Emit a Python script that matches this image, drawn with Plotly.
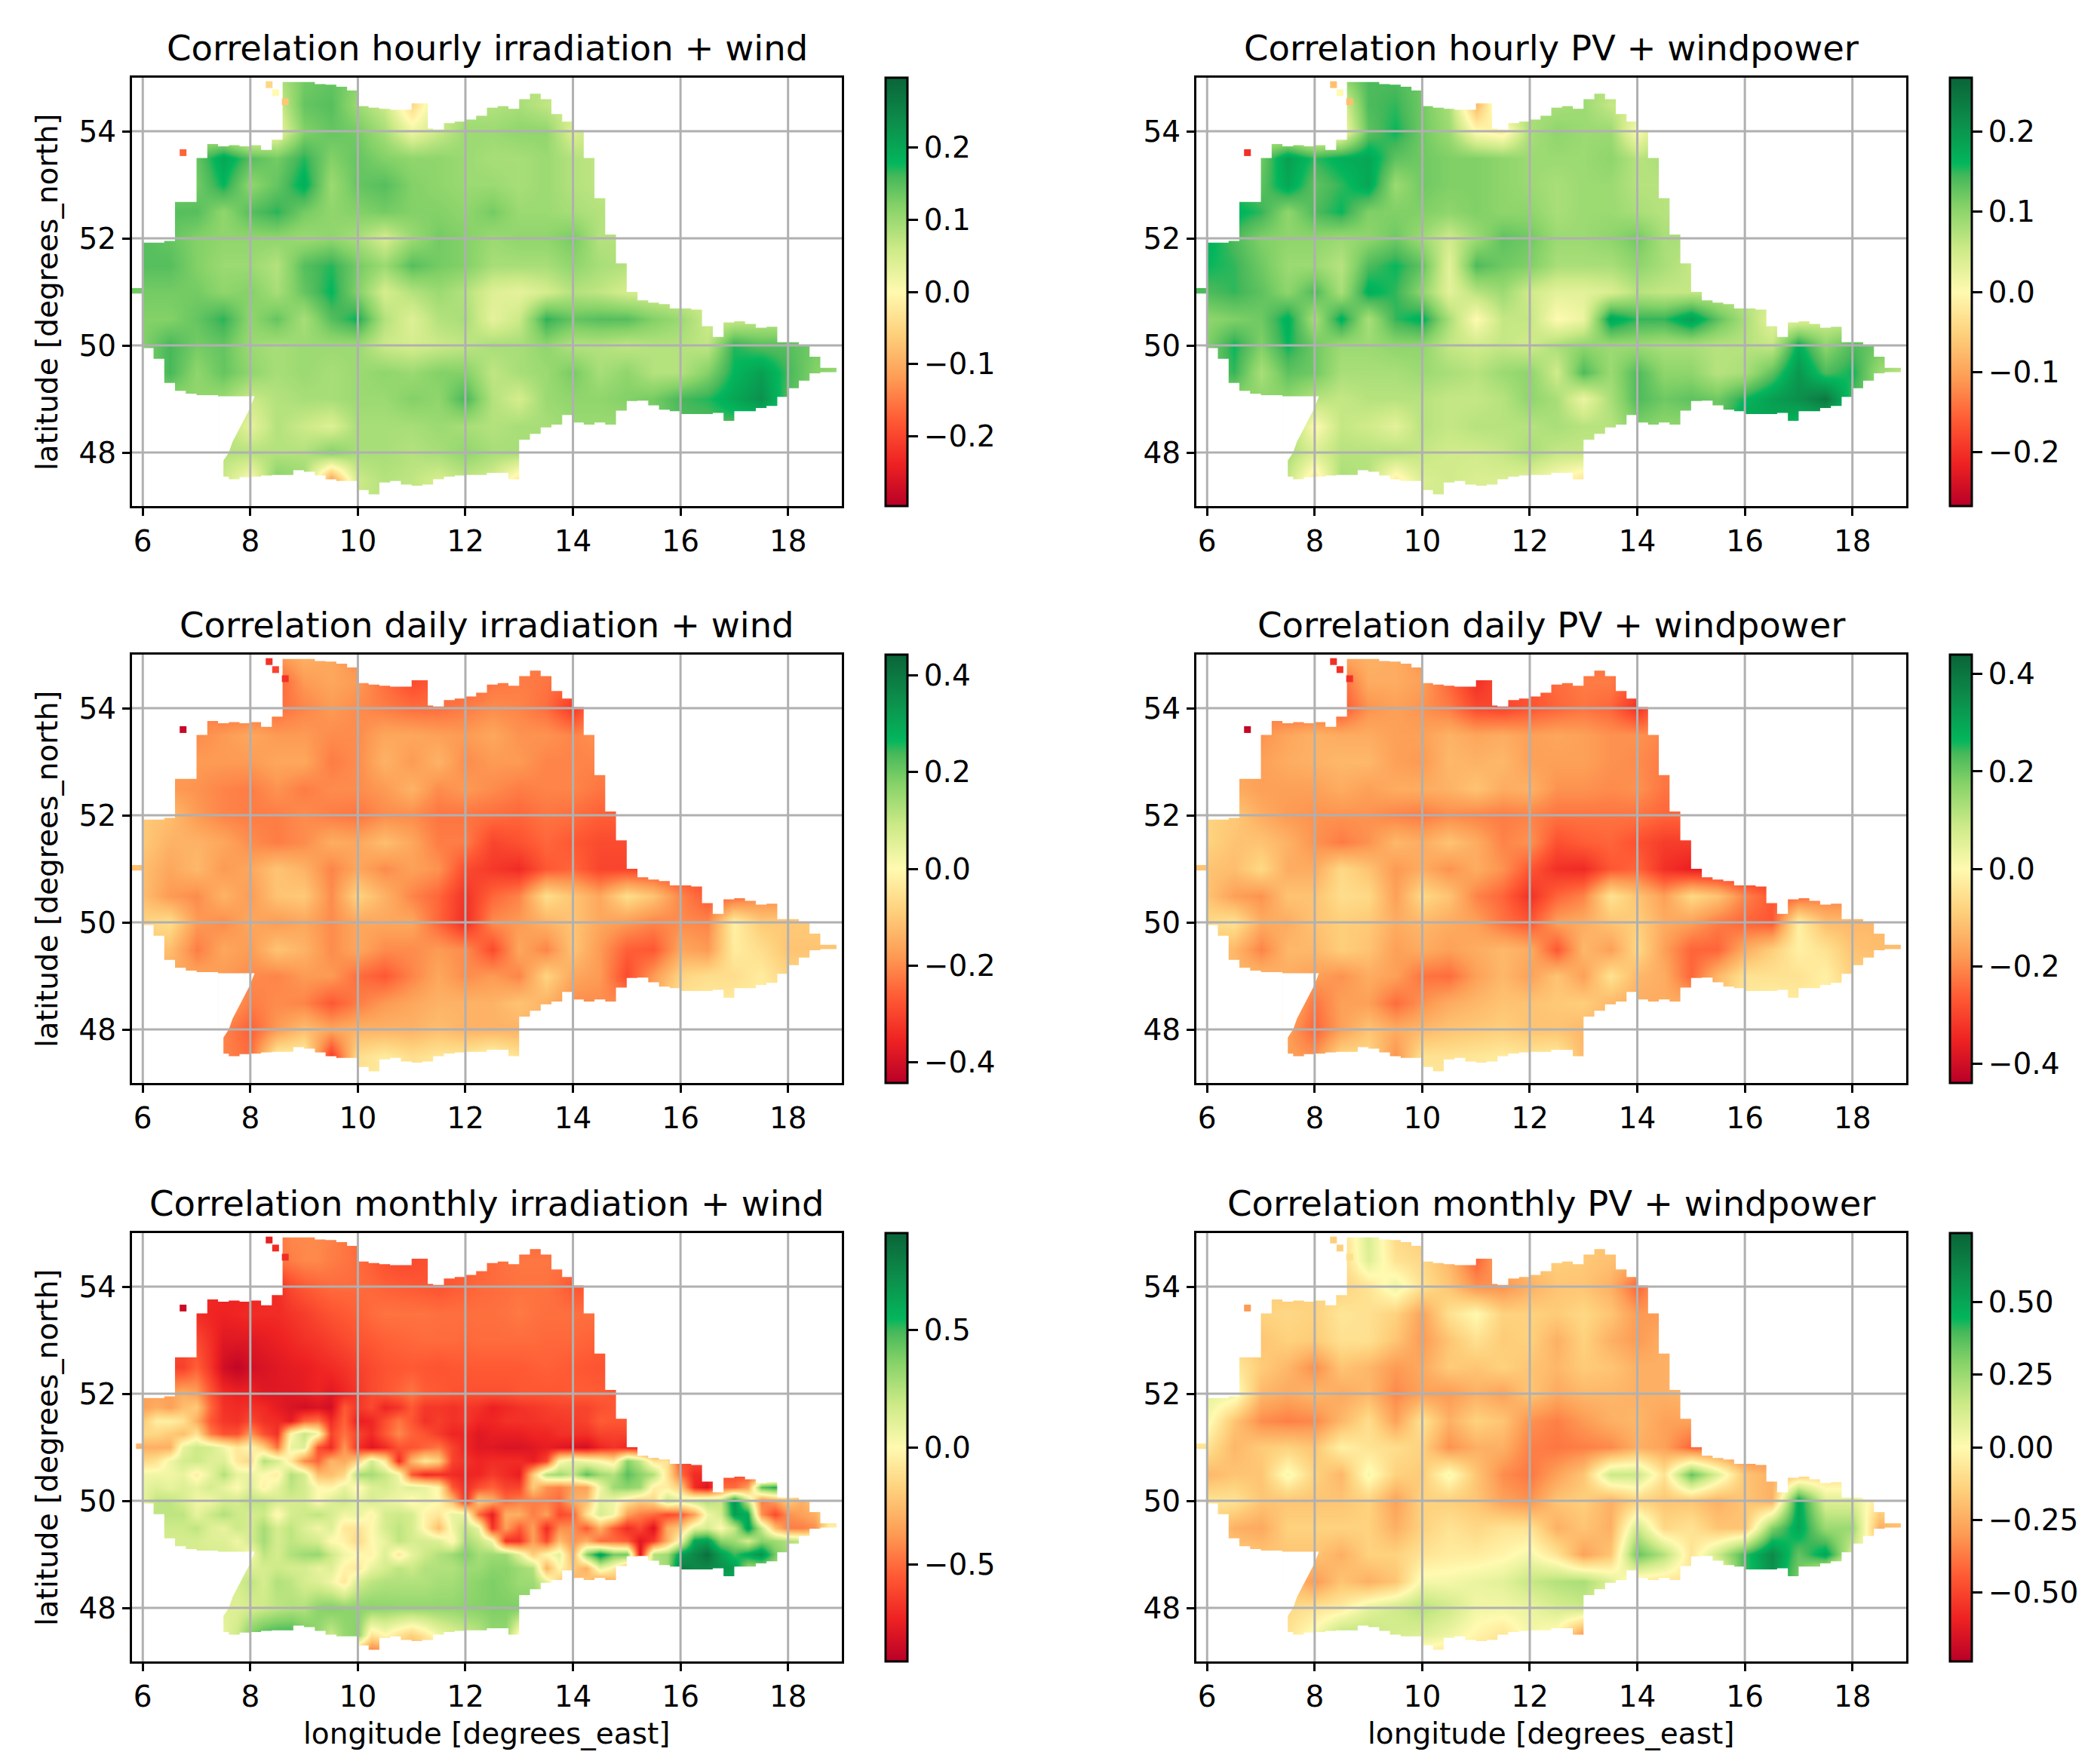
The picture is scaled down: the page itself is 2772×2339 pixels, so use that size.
# Correlation maps of irradiation/PV and wind/windpower over Germany
import plotly.graph_objects as go
from plotly.subplots import make_subplots

W, H = 2772, 2339

lon = [6, 6.5, 7, 7.5, 8, 8.5, 9, 9.5, 10, 10.5, 11, 11.5, 12, 12.5, 13, 13.5, 14,
       14.5, 15, 15.5, 16, 16.5, 17, 17.5, 18, 18.5, 19]
lat = [55, 54.5, 54, 53.5, 53, 52.5, 52, 51.5, 51, 50.5, 50, 49.5, 49, 48.5, 48, 47.5, 47]

# the monthly irradiation map has a sharp front, so it is read on a finer grid
lon_fine = [6, 6.25, 6.5, 6.75, 7, 7.25, 7.5, 7.75, 8, 8.25, 8.5, 8.75, 9, 9.25, 9.5, 9.75,
            10, 10.25, 10.5, 10.75, 11, 11.25, 11.5, 11.75, 12, 12.25, 12.5, 12.75, 13, 13.25, 13.5, 13.75,
            14, 14.25, 14.5, 14.75, 15, 15.25, 15.5, 15.75, 16, 16.25, 16.5, 16.75, 17, 17.25, 17.5, 17.75,
            18, 18.25, 18.5, 18.75, 19]
lat_fine = [55, 54.5, 54, 53.5, 53, 52.5, 52, 51.75, 51.5, 51.25, 51, 50.75, 50.5, 50.25, 50,
            49.75, 49.5, 49.25, 49, 48.75, 48.5, 48, 47.5, 47]

# values, in hundredths of a correlation, rows north to south
hourly_irr = [
    [10,10,10,10,10,8,13,14,12,10,5,5,8,8,8,8,8,8,8,8,8,8,8,8,8,8,8],
    [10,10,10,10,5,5,14,15,10,6,-5,5,8,8,9,7,5,8,8,8,8,8,8,8,8,8,8],
    [10,10,8,5,0,2,12,14,13,9,2,6,10,10,11,11,4,8,8,8,8,8,8,8,8,8,8],
    [12,12,14,20,15,13,17,12,14,12,11,11,10,9,9,10,8,7,7,7,7,7,7,7,7,7,7],
    [12,12,13,18,11,14,19,10,14,15,12,11,10,10,9,10,8,7,7,7,7,7,7,7,7,7,7],
    [13,15,15,11,15,17,13,11,12,13,12,12,11,13,10,10,9,8,8,8,8,8,8,8,8,8,8],
    [15,14,12,11,11,11,10,11,9,5,10,13,12,10,11,11,13,8,8,8,8,8,8,8,8,8,8],
    [15,15,12,10,10,8,15,17,13,10,15,13,12,9,9,9,11,9,8,8,8,8,8,8,8,8,8],
    [13,13,13,11,12,9,14,18,12,5,8,10,8,4,3,5,8,7,5,5,5,5,5,5,5,5,5],
    [12,12,14,17,11,14,9,15,18,8,4,8,9,3,6,17,14,15,15,12,10,6,6,7,7,7,7],
    [12,16,13,14,10,9,10,10,10,6,5,6,7,9,9,11,8,8,7,8,8,7,17,15,15,13,13],
    [12,16,11,14,11,9,10,9,10,11,10,12,12,7,9,10,13,9,11,8,8,12,18,21,16,12,10],
    [11,11,11,10,6,8,9,9,10,10,12,11,16,8,5,10,11,11,12,13,16,17,20,23,15,12,12],
    [10,10,8,8,3,8,6,4,9,9,9,10,9,8,9,9,10,10,10,12,15,15,15,15,15,12,12],
    [8,8,8,8,8,8,8,12,9,9,8,9,11,9,9,9,9,9,9,9,9,9,9,9,9,9,9],
    [6,6,6,6,0,12,10,-12,6,8,7,5,7,5,-3,0,5,5,5,5,5,5,5,5,5,5,5],
    [7,7,7,7,7,7,7,7,7,7,7,7,7,7,7,7,7,7,7,7,7,7,7,7,7,7,7],
]
hourly_pv = [
    [10,10,10,10,10,10,14,14,12,8,5,5,8,8,8,8,8,8,8,8,8,8,8,8,8,8,8],
    [10,10,10,10,0,3,14,15,12,8,-8,6,8,8,9,6,5,8,8,8,8,8,8,8,8,8,8],
    [10,10,5,3,0,0,13,16,12,9,0,-2,8,10,9,9,0,8,8,8,8,8,8,8,8,8,8],
    [14,14,12,19,15,17,18,13,12,11,11,10,9,9,9,10,7,8,8,8,8,8,8,8,8,8,8],
    [14,14,13,18,13,15,18,9,12,11,11,10,9,8,9,9,7,7,7,7,7,7,7,7,7,7,7],
    [15,17,15,10,14,16,11,11,11,10,11,10,10,8,9,9,8,7,7,7,7,7,7,7,7,7,7],
    [17,14,11,10,10,9,10,12,9,5,9,13,12,9,9,10,12,8,8,8,8,8,8,8,8,8,8],
    [16,15,12,9,9,7,14,16,13,3,14,12,11,8,8,8,10,8,6,6,6,6,6,6,6,6,6],
    [14,15,13,10,14,8,17,15,10,3,7,9,5,3,3,4,7,6,6,6,6,6,6,6,6,6,6],
    [10,11,12,17,8,17,8,15,17,8,0,6,6,0,2,18,15,15,19,13,8,3,3,5,5,5,5],
    [11,16,11,16,12,9,9,10,10,6,5,6,5,8,10,9,9,8,8,7,7,6,17,10,14,12,12],
    [12,15,8,13,12,8,8,8,9,8,7,9,10,5,14,9,14,10,10,7,8,13,20,14,16,9,6],
    [10,10,10,10,7,6,7,7,7,6,6,7,10,8,2,8,14,12,13,12,16,19,21,24,14,10,10],
    [10,10,8,8,0,6,5,3,7,6,7,7,7,8,7,7,11,10,10,13,19,18,15,15,15,10,10],
    [8,8,8,8,4,7,7,7,6,5,5,6,8,6,6,6,6,6,6,6,6,6,6,6,6,6,6],
    [6,6,6,6,-3,8,7,-2,4,5,4,4,3,0,-3,-3,3,3,3,3,3,3,3,3,3,3,3],
    [5,5,5,5,5,5,5,5,5,5,5,5,5,5,5,5,5,5,5,5,5,5,5,5,5,5,5],
]
daily_irr = [
    [-16,-16,-16,-16,-16,-18,-14,-16,-20,-21,-22,-22,-21,-21,-22,-22,-22,-22,-22,-22,-22,-22,-22,-22,-22,-22,-22],
    [-16,-16,-16,-16,-26,-26,-18,-16,-18,-24,-29,-26,-26,-23,-22,-23,-26,-22,-22,-22,-22,-22,-22,-22,-22,-22,-22],
    [-16,-16,-21,-24,-24,-24,-21,-18,-20,-22,-24,-24,-22,-20,-21,-24,-32,-21,-21,-21,-21,-21,-21,-21,-21,-21,-21],
    [-16,-18,-20,-18,-16,-18,-18,-20,-20,-16,-16,-17,-18,-16,-19,-19,-21,-19,-19,-19,-19,-19,-19,-19,-19,-19,-19],
    [-16,-18,-18,-18,-18,-16,-16,-22,-20,-14,-18,-14,-20,-18,-18,-21,-21,-21,-21,-21,-21,-21,-21,-21,-21,-21,-21],
    [-16,-18,-19,-21,-22,-19,-22,-20,-20,-18,-14,-20,-18,-20,-22,-21,-21,-23,-23,-23,-23,-23,-23,-23,-23,-23,-23],
    [-10,-12,-18,-21,-22,-22,-20,-22,-23,-20,-20,-23,-23,-24,-25,-23,-24,-26,-26,-26,-26,-26,-26,-26,-26,-26,-26],
    [-10,-14,-14,-16,-20,-22,-20,-15,-16,-12,-16,-22,-22,-30,-28,-25,-27,-29,-29,-29,-29,-29,-29,-29,-29,-29,-29],
    [-12,-16,-13,-18,-16,-11,-14,-21,-16,-20,-17,-19,-29,-32,-34,-27,-25,-30,-30,-30,-30,-30,-30,-30,-30,-30,-30],
    [-12,-18,-20,-14,-18,-11,-10,-20,-8,-14,-21,-25,-33,-25,-21,-6,-11,-16,-6,-11,-21,-27,-25,-21,-21,-21,-21],
    [-8,-6,-18,-20,-16,-18,-16,-20,-16,-16,-16,-25,-34,-20,-18,-14,-11,-16,-18,-21,-20,-21,-2,-10,-10,-10,-10],
    [-11,-12,-22,-16,-18,-11,-14,-20,-16,-20,-20,-18,-20,-29,-16,-21,-11,-18,-26,-27,-16,-18,-3,-6,-11,-11,-11],
    [-16,-16,-16,-18,-20,-21,-18,-18,-24,-27,-21,-16,-20,-18,-21,-8,-16,-18,-29,-18,-8,-6,-6,-3,-8,-8,-8],
    [-16,-16,-16,-16,-22,-20,-21,-27,-22,-18,-16,-14,-14,-14,-11,-14,-20,-20,-20,-14,-4,-3,-3,-3,-3,-3,-3],
    [-21,-21,-21,-21,-26,-18,-12,-16,-14,-14,-14,-12,-14,-14,-14,-14,-14,-14,-14,-14,-14,-14,-14,-14,-14,-14,-14],
    [-21,-21,-21,-21,-24,-2,-2,-32,-6,-3,-6,-4,-4,0,-5,-5,-5,-5,-5,-5,-5,-5,-5,-5,-5,-5,-5],
    [-4,-4,-4,-4,-4,-4,-4,-4,-4,-4,-4,-4,-4,-4,-4,-4,-4,-4,-4,-4,-4,-4,-4,-4,-4,-4,-4],
]
daily_pv = [
    [-15,-15,-15,-15,-15,-15,-14,-15,-19,-22,-24,-24,-24,-24,-24,-24,-24,-24,-24,-24,-24,-24,-24,-24,-24,-24,-24],
    [-15,-15,-15,-15,-25,-25,-15,-15,-17,-25,-33,-28,-28,-24,-22,-22,-28,-24,-24,-24,-24,-24,-24,-24,-24,-24,-24],
    [-17,-17,-22,-25,-25,-27,-19,-17,-19,-22,-29,-30,-27,-25,-23,-25,-33,-22,-22,-22,-22,-22,-22,-22,-22,-22,-22],
    [-17,-17,-19,-16,-14,-15,-15,-17,-17,-14,-16,-15,-17,-16,-17,-19,-19,-21,-21,-21,-21,-21,-21,-21,-21,-21,-21],
    [-17,-17,-17,-15,-14,-13,-13,-17,-18,-13,-14,-13,-17,-17,-17,-19,-20,-22,-22,-22,-22,-22,-22,-22,-22,-22,-22],
    [-15,-15,-17,-17,-17,-15,-17,-15,-15,-14,-11,-15,-14,-19,-19,-20,-19,-23,-23,-23,-23,-23,-23,-23,-23,-23,-23],
    [-8,-10,-15,-18,-19,-19,-19,-21,-22,-20,-21,-22,-21,-23,-23,-23,-23,-25,-25,-25,-25,-25,-25,-25,-25,-25,-25],
    [-8,-11,-11,-14,-19,-22,-19,-13,-15,-11,-15,-21,-19,-28,-26,-25,-28,-31,-31,-31,-31,-31,-31,-31,-31,-31,-31],
    [-11,-12,-7,-15,-15,-7,-11,-18,-15,-19,-15,-19,-27,-33,-34,-27,-25,-33,-36,-36,-36,-36,-36,-36,-36,-36,-36],
    [-11,-17,-19,-11,-11,-6,-7,-17,-7,-11,-21,-25,-33,-25,-21,-5,-11,-17,-7,-11,-21,-27,-25,-22,-22,-22,-22],
    [-7,-5,-15,-15,-11,-9,-10,-15,-13,-15,-17,-23,-27,-17,-15,-11,-9,-15,-17,-22,-25,-27,-2,-12,-13,-13,-13],
    [-11,-13,-21,-13,-13,-9,-11,-17,-15,-17,-15,-13,-15,-27,-13,-17,-7,-17,-25,-25,-15,-9,-2,-5,-11,-12,-12],
    [-13,-13,-13,-15,-17,-19,-15,-17,-23,-24,-17,-13,-17,-11,-17,-5,-13,-15,-25,-13,-5,-5,-5,-2,-9,-9,-9],
    [-13,-13,-13,-13,-23,-17,-17,-24,-19,-15,-13,-11,-11,-10,-9,-13,-15,-15,-15,-11,-3,-2,-3,-3,-3,-3,-3],
    [-17,-17,-17,-17,-25,-17,-11,-15,-13,-11,-10,-9,-11,-11,-13,-13,-13,-13,-13,-13,-13,-13,-13,-13,-13,-13,-13],
    [-17,-17,-17,-17,-19,-7,-7,-19,-5,-5,-4,-3,-4,-3,-13,-13,-5,-5,-5,-5,-5,-5,-5,-5,-5,-5,-5],
    [-4,-4,-4,-4,-4,-4,-4,-4,-4,-4,-4,-4,-4,-4,-4,-4,-4,-4,-4,-4,-4,-4,-4,-4,-4,-4,-4],
]
monthly_irr = [
    [-58,-58,-58,-58, -58,-58,-58,-58, -58,-58,-48,-42, -42,-42,-44,-47, -50,-53,-53,-53, -53,-53,-53,-53, -53,-53,-53,-53, -53,-53,-53,-53, -53,-53,-53,-53, -53,-53,-53,-53, -53,-53,-53,-53, -53,-53,-53,-53, -53,-53,-53,-53, -53],
    [-58,-58,-58,-58, -58,-58,-58,-58, -58,-58,-48,-45, -42,-42,-45,-47, -50,-54,-58,-60, -60,-58,-56,-56, -54,-52,-50,-48, -47,-47,-47,-48, -50,-50,-50,-50, -50,-50,-50,-50, -50,-50,-50,-50, -50,-50,-50,-50, -50,-50,-50,-50, -50],
    [-68,-68,-68,-68, -68,-70,-72,-73, -73,-72,-70,-60, -55,-52,-50,-50, -50,-51,-53,-54, -55,-56,-57,-55, -53,-51,-50,-49, -48,-48,-48,-51, -56,-56,-56,-56, -56,-56,-56,-56, -56,-56,-56,-56, -56,-56,-56,-56, -56,-56,-56,-56, -56],
    [-70,-70,-70,-70, -70,-72,-73,-72, -70,-70,-70,-67, -64,-60,-57,-55, -53,-50,-48,-48, -48,-48,-49,-49, -49,-49,-49,-48, -46,-48,-49,-49, -49,-49,-49,-49, -49,-49,-49,-49, -49,-49,-49,-49, -49,-49,-49,-49, -49,-49,-49,-49, -49],
    [-60,-60,-60,-60, -60,-68,-78,-78, -78,-76,-74,-71, -68,-66,-63,-60, -57,-55,-53,-52, -51,-50,-50,-50, -51,-50,-50,-50, -50,-50,-51,-51, -51,-52,-53,-53, -53,-53,-53,-53, -53,-53,-53,-53, -53,-53,-53,-53, -53,-53,-53,-53, -53],
    [-63,-63,-63,-63, -53,-66,-83,-88, -83,-80,-78,-76, -75,-72,-70,-67, -63,-60,-57,-56, -55,-56,-57,-56, -55,-55,-55,-55, -55,-54,-53,-54, -55,-56,-57,-57, -57,-57,-57,-57, -57,-57,-57,-57, -57,-57,-57,-57, -57,-57,-57,-57, -57],
    [-35,-35,-35,-30, -35,-55,-70,-73, -73,-78,-78,-78, -76,-73,-78,-72, -66,-60,-56,-52, -47,-54,-55,-57, -58,-58,-58,-58, -56,-56,-56,-56, -54,-54,-54,-56, -56,-56,-56,-56, -56,-56,-56,-56, -56,-56,-56,-56, -56,-56,-56,-56, -56],
    [-35,-30,-35,-25, -20,-50,-68,-70, -68,-70,-76,-80, -83,-80,-83,-55, -66,-60,-72,-67, -55,-66,-66,-68, -66,-68,-74,-71, -68,-66,-64,-62, -62,-62,-58,-56, -56,-56,-56,-56, -56,-56,-56,-56, -56,-56,-56,-56, -56,-56,-56,-56, -56],
    [-20,-5,-5,-10, -30,-55,-66,-68, -60,-68,-70,-76, -52,-48,-70,-52, -75,-72,-58,-47, -56,-68,-64,-68, -66,-72,-72,-68, -68,-68,-66,-66, -64,-62,-54,-56, -56,-56,-56,-56, -56,-56,-56,-56, -56,-56,-56,-56, -56,-56,-56,-56, -56],
    [-15,-15,-20,-25, -10,-45,-58,-58, -38,-58,-68,0, 20,5,-62,-48, -62,-70,-55,-42, -52,-57,-65,-72, -72,-78,-75,-75, -75,-72,-72,-68, -68,-68,-62,-62, -62,-62,-62,-62, -62,-62,-62,-62, -62,-62,-62,-62, -62,-62,-62,-62, -62],
    [-30,-30,-30,8, 18,15,5,-8, 0,-18,-48,8, 12,-58,-70,-38, -68,-78,-70,-57, -57,-52,-47,-62, -72,-78,-78,-80, -80,-78,-75,-78, -80,-82,-72,-67, -72,-72,-72,-72, -72,-72,-72,-72, -72,-72,-72,-72, -72,-72,-72,-72, -72],
    [-15,-10,5,15, 18,12,12,-8, -15,25,15,-8, -42,-52,-28,-32, -18,15,-8,-70, -28,-8,-18,-62, -68,-72,-70,-70, -70,-75,-62,0, 10,5,0,-10, 35,20,-10,-10, -60,-60,-60,-60, -60,-60,-60,-60, -60,-60,-60,-60, -60],
    [5,5,5,8, -5,8,25,8, 8,0,-5,25, 15,-25,-25,-15, 28,28,20,5, -55,-70,-68,-70, -72,-72,-65,-70, -75,-20,25,30, 20,45,30,25, 45,35,25,-10, -50,-70,-70,-60, -60,-60,-60,-60, -60,-60,-60,-60, -60],
    [8,12,8,12, 8,15,8,0, 12,-3,8,22, 15,0,-3,8, -3,12,15,8, 12,8,-3,-55, -70,-58,-52,-62, -62,-20,-40,-45, -35,-35,5,30, 35,30,-5,-5, -20,-70,-80,-50, -50,-35,45,55, 20,20,20,20, 20],
    [8,22,22,15, 5,5,15,15, 22,22,15,15, 15,0,12,18, 8,15,8,5, -3,5,0,-25, -70,-20,-30,-50, -45,-45,-45,-50, -30,-25,10,5, -10,-20,-15,20, 10,20,25,20, 70,20,-45,-35, -20,-30,-20,-20, -20],
    [22,22,22,22, 8,18,25,18, 15,18,-3,15, 18,22,15,5, 8,-3,15,18, 15,-3,-8,8, 8,-50,-75,-30, -30,-45,-35,-60, -55,-10,15,5, -35,-45,-50,-60, -55,-35,5,15, 65,60,-40,-60, -40,-35,-30,-10, -10],
    [18,18,18,18, 22,12,8,18, 15,28,15,22, 12,5,12,-8, -10,0,15,22, 15,-3,-25,5, 22,8,-68,-35, -55,-35,-70,-40, -40,-55,-30,-55, -70,-60,-80,-30, -20,10,15,0, 20,65,20,-25, -45,-45,-40,-5, -5],
    [15,15,15,15, 15,12,12,5, 15,28,15,22, 18,15,0,-3, -15,0,8,22, 15,15,12,-3, 28,20,5,-68, -68,-35,-60,-25, -40,-30,-50,-50, -55,-78,-65,-30, 5,60,65,35, 30,15,35,30, 25,20,20,20, 20],
    [15,15,15,15, 15,15,15,12, 0,22,15,25, 30,32,18,5, 0,-3,12,-8, 8,18,25,30, 38,28,30,30, 10,-20,0,10, -30,35,65,40, 40,-80,25,30, 65,75,85,65, 50,60,70,40, 30,30,30,30, 30],
    [15,15,15,15, 15,15,15,15, 12,15,18,15, 15,8,12,-3, -8,8,15,22, 18,25,25,25, 30,30,35,35, 30,25,-30,0, -20,-30,10,-5, -30,10,20,30, 80,75,75,70, 65,30,30,30, 30,30,30,30, 30],
    [15,15,15,15, 15,15,15,15, 22,15,25,22, 15,12,5,-8, 15,22,25,25, 25,25,28,28, 32,35,38,35, 30,30,10,-20, -30,-20,-40,-30, -30,-30,-30,-30, 60,60,60,60, 60,60,60,60, 60,60,60,60, 60],
    [12,12,12,12, 12,12,12,12, 15,18,22,25, 25,35,38,35, 35,35,34,33, 33,33,33,33, 35,36,38,38, 38,36,36,36, 36,36,36,36, 36,36,36,36, 36,36,36,36, 36,36,36,36, 36,36,36,36, 36],
    [8,8,8,8, 8,8,8,18, 38,48,52,52, 42,32,18,32, 36,-10,0,-10, -18,-8,5,12, 18,22,32,32, -5,-5,-5,-5, -5,-5,-5,-5, -5,-5,-5,-5, -5,-5,-5,-5, -5,-5,-5,-5, -5,-5,-5,-5, -5],
    [-40,-40,-40,-40, -40,-40,-40,-40, -40,-40,-40,-40, -40,-40,-40,-40, -70,-70,-70,-40, -40,-40,-40,-40, -40,-40,-40,-40, -40,-40,-40,-40, -40,-40,-40,-40, -40,-40,-40,-40, -40,-40,-40,-40, -40,-40,-40,-40, -40,-40,-40,-40, -40],
]
monthly_pv = [
    [-14,-14,-14,-14,-14,-12,12,-12,-16,-18,-18,-18,-18,-18,-18,-18,-18,-18,-18,-18,-18,-18,-18,-18,-18,-18,-18],
    [-14,-14,-14,-14,-18,-14,10,-8,-12,-22,-42,-24,-18,-15,-17,-19,-24,-24,-24,-24,-24,-24,-24,-24,-24,-24,-24],
    [-14,-14,-14,-18,-14,-14,-8,6,-9,-18,-32,-32,-24,-18,-18,-24,-42,-24,-24,-24,-24,-24,-24,-24,-24,-24,-24],
    [-14,-14,-14,-12,-14,-7,-9,-14,-28,-9,0,-14,-14,-16,-12,-18,-30,-30,-30,-30,-30,-30,-30,-30,-30,-30,-30],
    [-14,-14,-18,-14,-16,-9,-9,-18,-30,-18,-9,-16,-14,-24,-14,-24,-30,-24,-24,-24,-24,-24,-24,-24,-24,-24,-24],
    [-8,-5,-16,-22,-33,-18,-22,-30,-26,-16,-18,-14,-18,-22,-16,-18,-24,-24,-24,-24,-24,-24,-24,-24,-24,-24,-24],
    [8,5,-22,-26,-22,-26,-22,-34,-28,-30,-24,-28,-18,-26,-22,-22,-24,-24,-22,-22,-22,-22,-22,-22,-22,-22,-22],
    [3,-18,-33,-36,-34,-22,-10,-28,-8,-24,-14,-18,-32,-36,-30,-24,-22,-28,-28,-28,-28,-28,-28,-28,-28,-28,-28],
    [-8,-22,-16,-14,-18,-3,-8,-10,-14,-32,-24,-24,-36,-38,-36,-34,-24,-28,-42,-42,-42,-42,-42,-42,-42,-42,-42],
    [-22,-18,-18,3,-14,-22,3,-14,-16,3,-18,-33,-38,-28,-18,15,15,-8,35,10,-18,-24,-18,-12,-12,-12,-12],
    [-8,-8,-18,-18,-18,-18,-14,-28,-14,-15,-18,-28,-32,-18,-15,-24,-14,-18,-18,-24,-18,-24,50,10,10,-8,-12],
    [-12,-24,-26,-14,-14,-14,-14,-24,-14,-8,-12,-8,-8,-24,-18,-24,15,-12,-8,-18,-18,30,50,25,25,-24,-18],
    [-15,-15,-18,-18,-18,-24,-14,-14,-8,-5,-5,-2,3,-8,-28,-18,35,20,-8,15,40,60,35,50,10,-8,-8],
    [-14,-14,-14,-18,-30,-18,-24,-18,3,3,6,8,16,20,22,10,-8,-8,-8,-8,40,55,30,-12,-12,-12,-12],
    [-12,-12,-12,-12,-8,-5,8,14,20,14,4,4,6,12,15,8,8,8,8,8,8,8,8,8,8,8,8],
    [-8,-8,-8,-8,3,20,18,12,10,5,-2,-8,3,-3,-32,-32,0,0,0,0,0,0,0,0,0,0,0],
    [-14,-14,-14,-14,-14,-14,-14,-14,-14,-14,-14,-14,-14,-14,-14,-14,-14,-14,-14,-14,-14,-14,-14,-14,-14,-14,-14],
]

# outline of the covered area, per longitude bin
edge_lon = [5.8, 6.0, 6.2, 6.4, 6.6, 6.8, 7.0, 7.2, 7.4, 7.6, 7.8, 8.0, 8.2, 8.4, 8.6, 8.8, 9.0, 9.2,
            9.4, 9.6, 9.8, 10.0, 10.2, 10.4, 10.6, 10.8, 11.0, 11.2, 11.3, 11.4, 11.6, 11.8, 12.0, 12.2,
            12.4, 12.6, 12.8, 13.0, 13.2, 13.4, 13.6, 13.8, 14.0, 14.2, 14.4, 14.6, 14.8, 15.0, 15.2,
            15.4, 15.6, 15.8, 16.0, 16.2, 16.4, 16.6, 16.8, 17.0, 17.2, 17.4, 17.6, 17.8, 18.0, 18.2,
            18.4, 18.6, 18.8, 18.9]
edge_top = [51.07, 51.92, 51.92, 51.95, 52.68, 52.68, 53.5, 53.76, 53.72, 53.74, 53.72, 53.74, 53.65, 53.84,
            54.92, 54.92, 54.92, 54.88, 54.87, 54.83, 54.76, 54.47, 54.44, 54.42, 54.4, 54.4, 54.52, 54.52,
            54.05, 54.03, 54.15, 54.18, 54.22, 54.29, 54.44, 54.47, 54.42, 54.6, 54.7, 54.6, 54.32, 54.18,
            54.02, 53.5, 52.75, 52.07, 51.53, 51.0, 50.84, 50.8, 50.77, 50.69, 50.69, 50.67, 50.36, 50.16,
            50.43, 50.45, 50.4, 50.33, 50.35, 50.06, 50.06, 50.01, 49.79, 49.58, 49.58, 49.55]
edge_bot = [50.97, 49.95, 49.75, 49.3, 49.15, 49.1, 49.07, 49.07, 47.55, 47.5, 47.54, 47.55, 47.57, 47.58,
            47.58, 47.67, 47.64, 47.57, 47.5, 47.47, 47.47, 47.3, 47.22, 47.44, 47.47, 47.4, 47.38, 47.4,
            47.4, 47.5, 47.55, 47.57, 47.58, 47.58, 47.62, 47.62, 47.5, 48.24, 48.35, 48.47, 48.52, 48.7,
            48.56, 48.52, 48.56, 48.52, 48.78, 48.96, 48.97, 48.88, 48.8, 48.77, 48.72, 48.72, 48.72, 48.74,
            48.59, 48.77, 48.77, 48.83, 48.87, 49.04, 49.2, 49.34, 49.48, 49.5, 49.5, 49.55]
# the white notch on the south-west side
notch_lon = [7.4, 8.08, 7.98, 7.83, 7.67, 7.6, 7.5, 7.5, 7.4]
notch_lat = [49.05, 49.05, 48.8, 48.5, 48.2, 48.0, 47.85, 47.4, 47.4]

# isolated coastal cells
islet_lon = [6.75, 8.35, 8.47, 8.65]
islet_lat = [53.6, 54.87, 54.72, 54.55]

titles = ["Correlation hourly irradiation + wind", "Correlation hourly PV + windpower",
          "Correlation daily irradiation + wind", "Correlation daily PV + windpower",
          "Correlation monthly irradiation + wind", "Correlation monthly PV + windpower"]
fields = [hourly_irr, hourly_pv, daily_irr, daily_pv, monthly_irr, monthly_pv]
field_lon = [lon, lon, lon, lon, lon_fine, lon]
field_lat = [lat, lat, lat, lat, lat_fine, lat]
limits = [0.297, 0.2675, 0.443, 0.44, 0.912, 0.737]
islet_vals = [[-17, -5, 0, -7], [-20, -7, 0, -7], [-42, -33, -30, -33],
              [-42, -33, -33, -33], [-85, -75, -70, -70], [-30, -15, -15, -10]]
bar_ticks = [[-0.2, -0.1, 0.0, 0.1, 0.2], [-0.2, -0.1, 0.0, 0.1, 0.2], [-0.4, -0.2, 0.0, 0.2, 0.4],
             [-0.4, -0.2, 0.0, 0.2, 0.4], [-0.5, 0.0, 0.5], [-0.5, -0.25, 0.0, 0.25, 0.5]]
bar_text = [["\u22120.2", "\u22120.1", "0.0", "0.1", "0.2"], ["\u22120.2", "\u22120.1", "0.0", "0.1", "0.2"],
            ["\u22120.4", "\u22120.2", "0.0", "0.2", "0.4"], ["\u22120.4", "\u22120.2", "0.0", "0.2", "0.4"],
            ["\u22120.5", "0.0", "0.5"], ["\u22120.50", "\u22120.25", "0.00", "0.25", "0.50"]]

x_ticks = [6, 8, 10, 12, 14, 16, 18]
y_ticks = [48, 50, 52, 54]

# colour ramp as it appears in the reference colour bars
scale = [[0.0, "#b80027"], [0.1, "#ee2222"], [0.2, "#ff5a34"], [0.3, "#fd9d55"], [0.4, "#fed07c"],
         [0.5, "#fffab0"], [0.6, "#cdea88"], [0.7, "#85d268"], [0.77, "#46b85a"], [0.8, "#03b65c"],
         [0.9, "#0d8c4a"], [1.0, "#0a6438"]]

# pixel layout of the page
col_x = [(175, 1116), (1586, 2527)]
row_y = [(103, 671), (868, 1436), (1635, 2203)]
bar_x = [1174, 2585]
bar_w = 29
title_y = [64, 829, 1596]

tick_font = dict(family="DejaVu Sans", size=39, color="black")

fig = make_subplots(rows=3, cols=2)
for i, field in enumerate(fields):
    r, c = i // 2, i % 2
    top, bottom = row_y[r]
    left, right = col_x[c]
    lim = limits[i]
    fig.add_trace(go.Heatmap(
        x=field_lon[i], y=field_lat[i], z=[[v / 100 for v in row] for row in field],
        zmin=-lim, zmax=lim, colorscale=scale, zsmooth="best", hoverinfo="skip",
        colorbar=dict(x=bar_x[c] / W, xanchor="left", y=1 - bottom / H, yanchor="bottom",
                      len=(bottom - top) / H, lenmode="fraction",
                      thickness=bar_w, thicknessmode="pixels", xpad=0, ypad=0,
                      outlinecolor="black", outlinewidth=3,
                      ticks="outside", ticklen=13, tickwidth=3, tickcolor="black",
                      tickvals=bar_ticks[i], ticktext=bar_text[i], tickfont=tick_font),
    ), row=r + 1, col=c + 1)
    # white masks leave only the covered area
    for xs, ys in [(edge_lon + [19.2, 5.6], edge_top + [55.2, 55.2]),
                   (edge_lon + [19.2, 5.6], edge_bot + [46.8, 46.8])]:
        fig.add_trace(go.Scatter(x=xs, y=ys, mode="lines", fill="toself", fillcolor="white",
                                 line=dict(width=0, shape="hv"), hoverinfo="skip", showlegend=False),
                      row=r + 1, col=c + 1)
    fig.add_trace(go.Scatter(x=notch_lon, y=notch_lat, mode="lines", fill="toself", fillcolor="white",
                             line=dict(width=0), hoverinfo="skip", showlegend=False),
                  row=r + 1, col=c + 1)
    fig.add_trace(go.Scatter(x=islet_lon, y=islet_lat, mode="markers", hoverinfo="skip", showlegend=False,
                             marker=dict(symbol="square", size=9, color=[v / 100 for v in islet_vals[i]],
                                         cmin=-lim, cmax=lim, colorscale=scale, line=dict(width=0))),
                  row=r + 1, col=c + 1)
    fig.update_xaxes(domain=[left / W, right / W], range=[5.8, 19.0], tickvals=x_ticks,
                     showgrid=False, zeroline=False, showline=True, mirror=True,
                     linecolor="black", linewidth=3, ticks="outside", ticklen=10, tickwidth=3,
                     tickcolor="black", tickfont=tick_font, row=r + 1, col=c + 1)
    fig.update_yaxes(domain=[1 - bottom / H, 1 - top / H], range=[47, 55], tickvals=y_ticks,
                     showgrid=False, zeroline=False, showline=True, mirror=True,
                     linecolor="black", linewidth=3, ticks="outside", ticklen=10, tickwidth=3,
                     tickcolor="black", tickfont=tick_font, row=r + 1, col=c + 1)
    # grid lines sit on top of the map
    suffix = "" if i == 0 else str(i + 1)
    for t in x_ticks:
        fig.add_shape(type="line", xref="x" + suffix, yref="y" + suffix + " domain", x0=t, x1=t, y0=0, y1=1,
                      line=dict(color="#b0b0b0", width=3), layer="above")
    for t in y_ticks:
        fig.add_shape(type="line", xref="x" + suffix + " domain", yref="y" + suffix, x0=0, x1=1, y0=t, y1=t,
                      line=dict(color="#b0b0b0", width=3), layer="above")
    fig.add_annotation(text=titles[i], xref="paper", yref="paper", x=(left + right) / 2 / W,
                       y=1 - title_y[r] / H, showarrow=False, xanchor="center", yanchor="middle",
                       font=dict(family="DejaVu Sans", size=46.5, color="black"))
    if c == 0:
        fig.add_annotation(text="latitude [degrees_north]", xref="paper", yref="paper", x=62 / W,
                           y=1 - (top + bottom) / 2 / H, showarrow=False, textangle=-90,
                           xanchor="center", yanchor="middle", font=tick_font)
    if r == 2:
        fig.add_annotation(text="longitude [degrees_east]", xref="paper", yref="paper",
                           x=(left + right) / 2 / W, y=1 - 2298 / H, showarrow=False,
                           xanchor="center", yanchor="middle", font=tick_font)

fig.update_layout(width=W, height=H, autosize=False, margin=dict(l=0, r=0, t=0, b=0),
                  paper_bgcolor="white", plot_bgcolor="white", showlegend=False)

fig.write_html("out.html", config={"displayModeBar": False},
               post_script="document.body.style.margin='0';")
